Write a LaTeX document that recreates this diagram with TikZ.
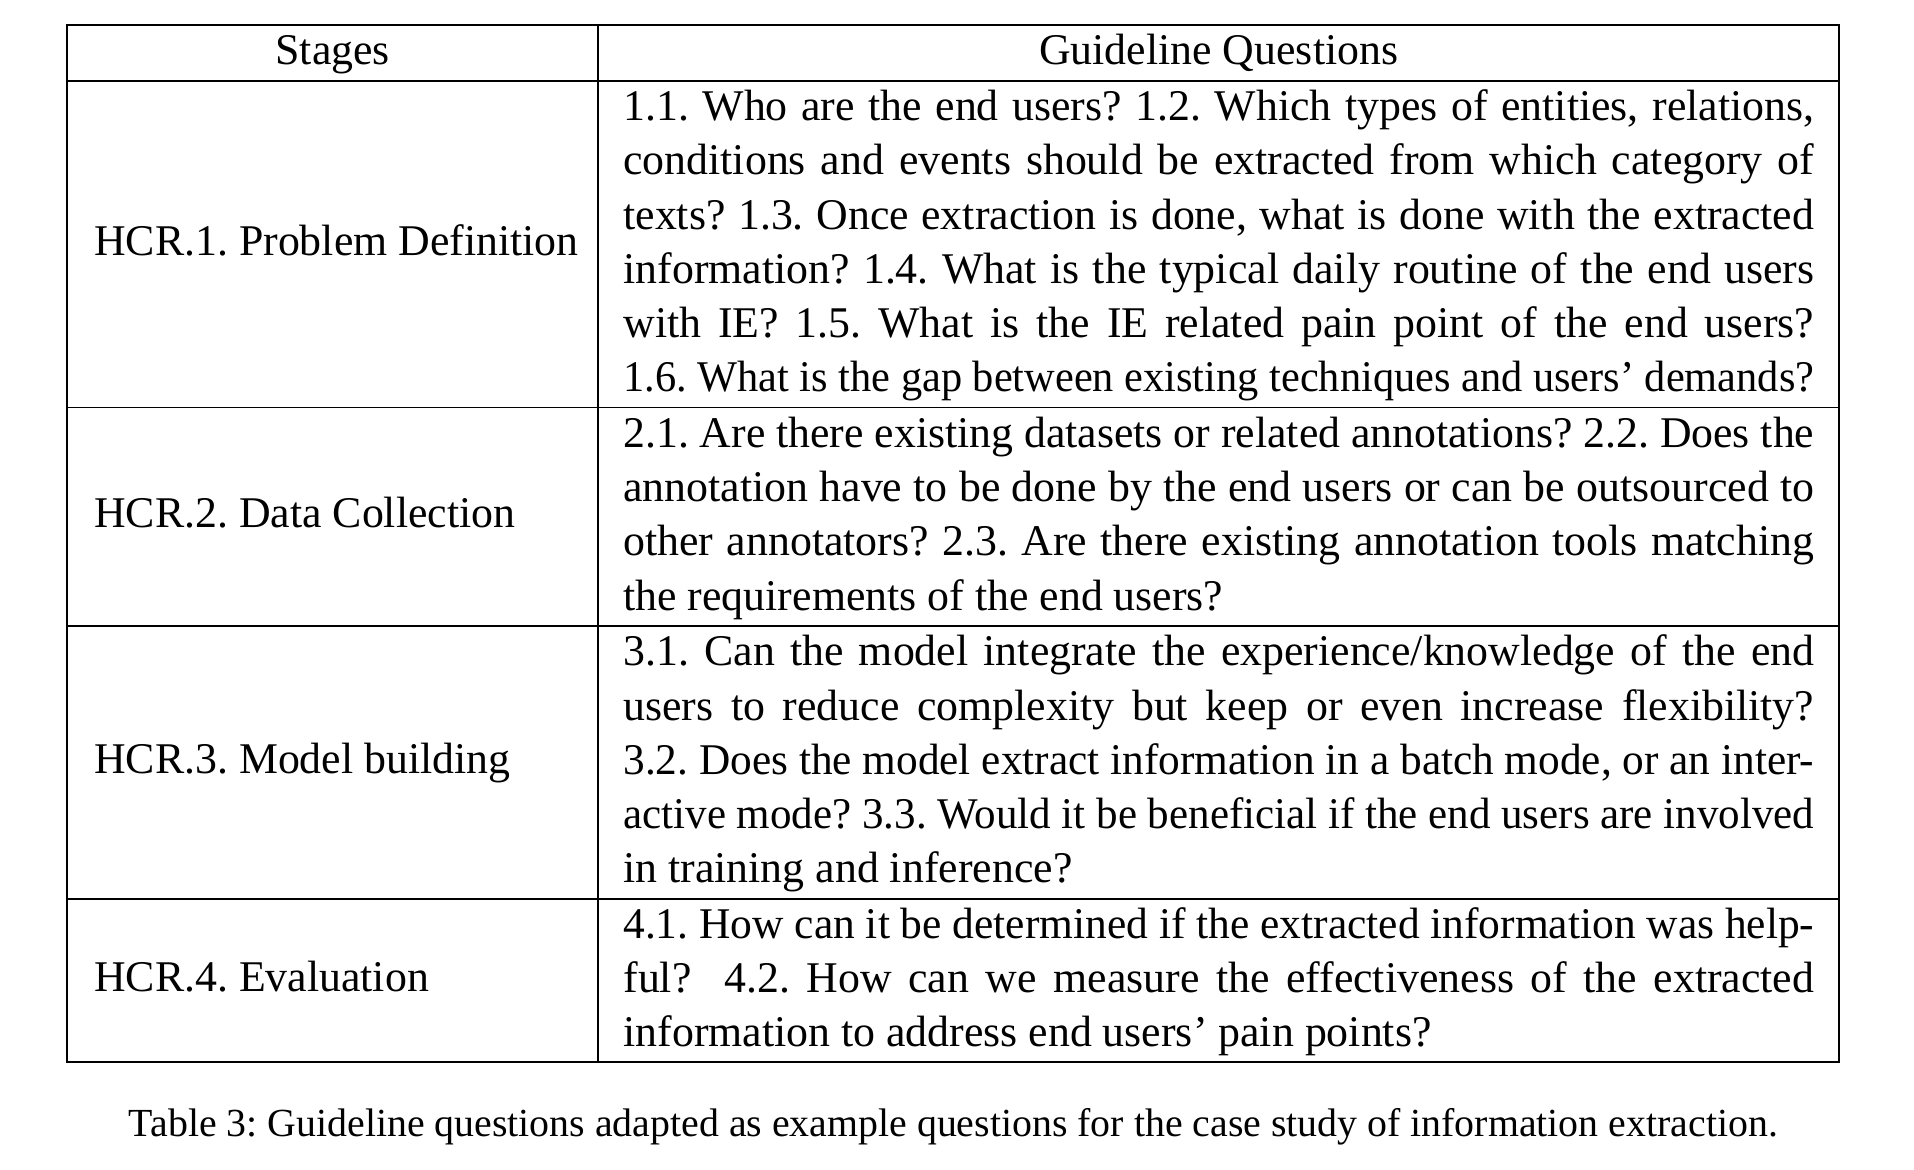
\documentclass[tikz,border=0pt]{standalone}
\usepackage{fontspec}
\usepackage{graphicx}
\setmainfont{Liberation Serif}
\frenchspacing
\newlength\qw
\setlength\qw{298.9pt}
\newsavebox\lbox
% #1 = 1: justified line, 0: last line (natural width); lines too wide are fitted
\newcommand\fitline[2]{%
  \sbox\lbox{#2}%
  \ifdim\wd\lbox>\qw
    \pgfmathsetmacro\lratio{\the\qw/\the\wd\lbox}%
    \hbox{\scalebox{\lratio}[1]{\usebox\lbox}}%
  \else
    \ifnum#1=1 \hbox to\qw{\spaceskip=\fontdimen2\font plus 1fil\relax #2}%
    \else \hbox{\usebox\lbox}\fi
  \fi}
\newcommand\jline[1]{\fitline{1}{#1}}
\newcommand\lastline[1]{\fitline{0}{#1}}
\newcommand\qcellbox[1]{\vtop{\hsize=\qw\baselineskip=13.6pt\lineskiplimit=-50pt\lineskip=0pt #1}}
\begin{document}
\begin{tikzpicture}[x=0.25100pt,y=-0.25100pt,
  txt/.style={font=\fontsize{11}{13.6}\selectfont\frenchspacing, inner sep=0pt, outer sep=0pt},
  qcell/.style={txt, anchor=base west},
  scell/.style={txt, anchor=base west},
  hcell/.style={txt, anchor=base},
  capstyle/.style={font=\fontsize{10}{12}\selectfont\frenchspacing, inner sep=0pt, outer sep=0pt, anchor=base},
  rulestyle/.style={line width=0.5pt, black}]
\useasboundingbox (0,0) rectangle (1914,1169);
% table rules
\coordinate (tl) at (67.3,25);
\coordinate (br) at (1839.3,1062.3);
\draw[rulestyle] (tl) rectangle (br);
\draw[rulestyle] (598,25) -- (598,1062.3);
\draw[rulestyle] (67.3,80.7) -- (1839.3,80.7);
\draw[rulestyle] (67.3,407.5) -- (1839.3,407.5);
\draw[rulestyle] (67.3,625.9) -- (1839.3,625.9);
\draw[rulestyle] (67.3,898.5) -- (1839.3,898.5);
% header
\node[hcell] (hstages) at (332.7,65) {Stages};
\node[hcell] (hquest) at (1218.7,65) {Guideline Questions};
% stages
\node[scell] (s1) at (94.2,255) {HCR.1. Problem Definition};
\node[scell] (s2) at (94.2,527.7) {HCR.2. Data Collection};
\node[scell] (s3) at (94.2,773.2) {HCR.3. Model building};
\node[scell] (s4) at (94.2,991.4) {HCR.4. Evaluation};
% questions
\node[qcell] (q1) at (623.4,120.7) {\qcellbox{%
\jline{1.1. Who are the end users? 1.2. Which types of entities, relations,}
\jline{conditions and events should be extracted from which category of}
\jline{texts? 1.3. Once extraction is done, what is done with the extracted}
\jline{information? 1.4. What is the typical daily routine of the end users}
\jline{with IE? 1.5. What is the IE related pain point of the end users?}
\lastline{1.6. What is the gap between existing techniques and users’ demands?}}};
\node[qcell] (q2) at (623.4,447.5) {\qcellbox{%
\jline{2.1. Are there existing datasets or related annotations? 2.2. Does the}
\jline{annotation have to be done by the end users or can be outsourced to}
\jline{other annotators? 2.3. Are there existing annotation tools matching}
\lastline{the requirements of the end users?}}};
\node[qcell] (q3) at (623.4,665.9) {\qcellbox{%
\jline{3.1. Can the model integrate the experience/knowledge of the end}
\jline{users to reduce complexity but keep or even increase flexibility?}
\jline{3.2. Does the model extract information in a batch mode, or an inter-}
\jline{active mode? 3.3. Would it be beneficial if the end users are involved}
\lastline{in training and inference?}}};
\node[qcell] (q4) at (623.4,938.5) {\qcellbox{%
\jline{4.1. How can it be determined if the extracted information was help-}
\jline{ful?\ \ 4.2. How can we measure the effectiveness of the extracted}
\lastline{information to address end users’ pain points?}}};
% caption
\node[capstyle] (cap) at (953.3,1136) {Table 3: Guideline questions adapted as example questions for the case study of information extraction.};
\end{tikzpicture}
\end{document}
